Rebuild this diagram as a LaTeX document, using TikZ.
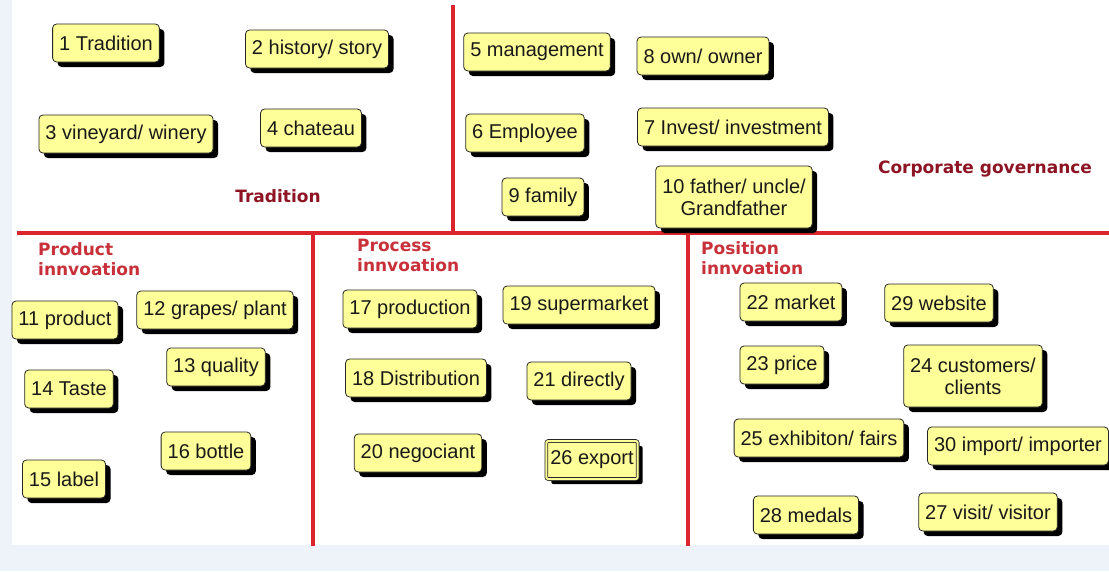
\documentclass[tikz,border=0pt]{standalone}
\usepackage{fontspec}
\setmainfont{Liberation Sans}
\newfontfamily\labfont{DejaVu Sans}
\usetikzlibrary{shadows}
\definecolor{boxyellow}{HTML}{FFFF99}
\definecolor{linered}{HTML}{D9252B}
\definecolor{darklab}{HTML}{8E1424}
\definecolor{lightlab}{HTML}{C8303A}
\definecolor{bgblue}{HTML}{EEF2F9}
\tikzset{
  kw/.style={draw=black!85, line width=0.8pt, fill=boxyellow, rounded corners=4pt,
    inner xsep=6.5pt, inner ysep=0pt, minimum height=38pt, align=center,
    text=black!90, font=\fontsize{20}{22}\selectfont,
    drop shadow={shadow xshift=5pt, shadow yshift=-5pt, fill=black, opacity=1}},
  sect/.style={font=\labfont\bfseries\fontsize{17}{20}\selectfont, inner sep=0pt, align=left},
  divider/.style={draw=linered, line width=4.5pt}
}
\begin{document}
\begin{tikzpicture}[x=1pt,y=-1pt]
\useasboundingbox (0,0) rectangle (1109,571);
\fill[bgblue] (0,0) rectangle (1109,571);
\fill[white] (12,0) rectangle (1109,545);
% dividers
\coordinate (vt) at (453,5);
\coordinate (vb) at (453,233);
\coordinate (hl) at (17,233);
\coordinate (hr) at (1109,233);
\coordinate (l1t) at (313,233);
\coordinate (l1b) at (313,546);
\coordinate (l2t) at (688,233);
\coordinate (l2b) at (688,546);
\draw[divider] (vt) -- (vb);
\draw[divider] (hl) -- (hr);
\draw[divider] (l1t) -- (l1b);
\draw[divider] (l2t) -- (l2b);
% section labels
\node[sect, text=darklab] (tradlab) at (278,196) {Tradition};
\node[sect, text=darklab] (corplab) at (985,169) {Corporate governance};
\node[sect, text=lightlab, anchor=west] (prodlab) at (38,259) {Product\\innvoation};
\node[sect, text=lightlab, anchor=west] (proclab) at (357,255) {Process\\innvoation};
\node[sect, text=lightlab, anchor=west] (poslab) at (701,258) {Position\\innvoation};
% Tradition
\node[kw] (k1) at (106,43) {1 Tradition};
\node[kw] (k2) at (317,49) {2 history/ story};
\node[kw] (k3) at (126,134) {3 vineyard/ winery};
\node[kw] (k4) at (311,128) {4 chateau};
% Corporate governance
\node[kw] (k5) at (537,52) {5 management};
\node[kw] (k8) at (703,56) {8 own/ owner};
\node[kw] (k6) at (525,133) {6 Employee};
\node[kw] (k7) at (733,127) {7 Invest/ investment};
\node[kw] (k9) at (543,197) {9 family};
\node[kw, minimum height=62pt] (k10) at (734,197) {10 father/ uncle/\\Grandfather};
% Product innovation
\node[kw] (k11) at (65,320) {11 product};
\node[kw] (k12) at (215,310) {12 grapes/ plant};
\node[kw] (k13) at (216,367) {13 quality};
\node[kw] (k14) at (69,389) {14 Taste};
\node[kw] (k16) at (206,451) {16 bottle};
\node[kw] (k15) at (64,479) {15 label};
% Process innovation
\node[kw] (k17) at (410,309) {17 production};
\node[kw] (k19) at (579,305) {19 supermarket};
\node[kw] (k18) at (416,378) {18 Distribution};
\node[kw] (k21) at (579,381) {21 directly};
\node[kw] (k20) at (418,453) {20 negociant};
\node[kw, double=boxyellow, double distance=2pt, rounded corners=2pt, inner xsep=4pt] (k26) at (592,460) {26 export};
% Position innovation
\node[kw] (k22) at (791,302) {22 market};
\node[kw] (k29) at (939,303) {29 website};
\node[kw] (k23) at (782,365) {23 price};
\node[kw, minimum height=62pt] (k24) at (973,376) {24 customers/\\clients};
\node[kw] (k25) at (819,438) {25 exhibiton/ fairs};
\node[kw] (k30) at (1018,446) {30 import/ importer};
\node[kw] (k28) at (806,515) {28 medals};
\node[kw] (k27) at (988,512) {27 visit/ visitor};
\end{tikzpicture}
\end{document}
